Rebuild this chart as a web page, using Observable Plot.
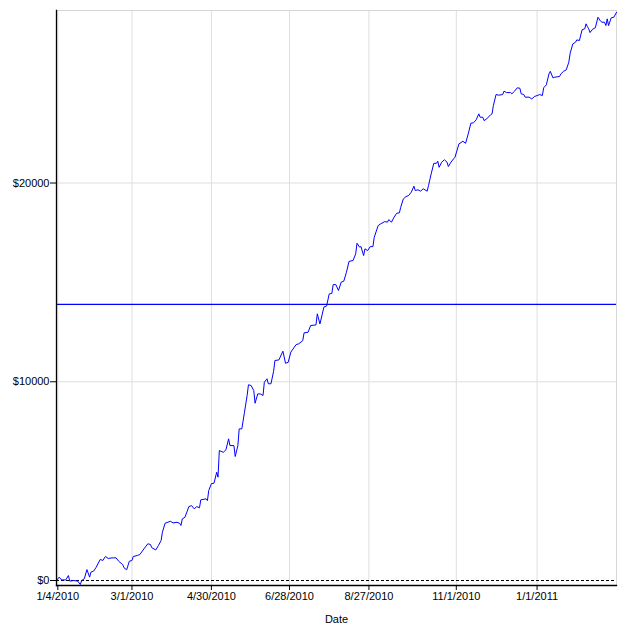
<!DOCTYPE html>
<html>
<head>
<meta charset="utf-8">
<script src="https://cdn.jsdelivr.net/npm/d3@7"></script>
<script src="https://cdn.jsdelivr.net/npm/@observablehq/plot@0.6"></script>
<style>
  html, body { margin: 0; padding: 0; background: white; }
  #chart { width: 632px; height: 634px; }
</style>
</head>
<body>
<div id="chart"></div>
<script>
// ---- data ----
const startDate = "2010-01-03";          // day 0 of the offsets below
const endDate = "2011-03-02";            // right end of the date axis
const dayOffsets = [
  0, 2, 4, 7, 9, 10, 13, 16, 18, 19, 21, 23, 25, 26, 28, 30, 33, 35, 37, 39,
  42, 45, 47, 50, 51, 53, 55, 57, 58, 61, 63, 66, 69, 71, 72, 75, 77, 79, 80, 82,
  86, 88, 91, 93, 94, 95, 97, 100, 102, 104, 106, 108, 109, 113, 114, 115, 117, 119, 121, 122,
  123, 126, 128, 130, 131, 134, 135, 137, 138, 140, 142, 144, 145, 147, 149, 150, 152, 154, 156, 157,
  159, 160, 162, 164, 165, 168, 171, 173, 175, 177, 181, 183, 186, 187, 190, 192, 196, 197, 199, 202,
  204, 206, 208, 209, 211, 213, 215, 217, 219, 221, 224, 226, 227, 229, 230, 232, 233, 235, 237, 239,
  240, 243, 245, 248, 250, 251, 253, 255, 257, 259, 260, 262, 264, 266, 268, 270, 271, 273, 275, 277,
  280, 281, 283, 285, 287, 288, 289, 291, 293, 295, 296, 298, 300, 301, 304, 307, 309, 311, 313, 315,
  317, 319, 320, 322, 323, 325, 328, 329, 330, 332, 334, 337, 338, 340, 343, 344, 346, 348, 350, 351,
  353, 354, 357, 359, 361, 363, 365, 367, 368, 370, 372, 373, 375, 376, 380, 381, 383, 385, 387, 388,
  390, 392, 393, 395, 397, 399, 400, 401, 402, 403, 405, 407, 409, 411, 412, 414, 415, 416, 417, 419,
  421, 423
];
const pnl = [
  0, 170, 30, 30, 250, -30, 0, -30, -200, 0, 90, 550, 170, 420, 470, 670, 1060, 1010, 1210, 1110,
  1140, 1140, 970, 800, 640, 540, 970, 1010, 1210, 1260, 1310, 1590, 1850, 1810, 1650, 1540, 1760, 2010, 2430, 2880,
  2980, 2900, 2930, 2880, 2770, 3100, 3180, 3720, 3770, 3610, 3720, 3660, 4060, 4110, 4020, 4530, 4870, 4900, 5450, 5200,
  6540, 6450, 6580, 7130, 6790, 6790, 6240, 6790, 7630, 7630, 8470, 9310, 9850, 9810, 9560, 8920, 9390, 9390, 9310, 9980,
  10150, 9900, 9900, 10530, 11070, 11100, 11540, 10930, 10980, 11490, 11870, 11910, 12070, 12460, 12490, 12830, 12860, 13420, 12910, 13760,
  13810, 14420, 14450, 14890, 14890, 14590, 15010, 15060, 15510, 16060, 16100, 16440, 16970, 16770, 16800, 16350, 16690, 16600, 16800, 16800,
  17270, 17860, 17950, 18060, 18030, 18160, 18030, 18280, 18480, 18500, 18780, 19200, 19320, 19370, 19540, 19840, 19620, 19660, 19590, 19710,
  19590, 19870, 20460, 20990, 20990, 21100, 20790, 21050, 21170, 21050, 20830, 21050, 21220, 21300, 21970, 22100, 22000, 22470, 23010, 23030,
  23180, 23480, 23310, 23310, 23140, 23230, 23440, 23480, 23900, 24450, 24420, 24450, 24620, 24550, 24550, 24490, 24620, 24790, 24770, 24490,
  24450, 24320, 24320, 24230, 24350, 24400, 24450, 24400, 24790, 24940, 25490, 25620, 25290, 25320, 25360, 25490, 25620, 25690, 26080, 26530,
  27000, 27080, 27200, 27170, 27710, 27760, 28010, 27870, 27760, 27570, 27740, 27810, 28340, 28140, 28090, 28090, 27920, 28260, 27920, 28310,
  28340, 28590
];
const xTickDates = ["2010-01-04", "2010-03-01", "2010-04-30", "2010-06-28", "2010-08-27", "2010-11-01", "2011-01-01"];
const yTicks = [0, 10000, 20000];
const meanLevel = 13890;                  // level of the solid horizontal line
const yDomain = [-250, 28680];

// ---- build table ----
const base = new Date(startDate);
const series = dayOffsets.map((d, i) => ({date: d3.utcDay.offset(base, d), value: pnl[i]}));
const tickDates = xTickDates.map(s => new Date(s));
const fmtDate = d => `${d.getUTCMonth() + 1}/${d.getUTCDate()}/${d.getUTCFullYear()}`;

const chart = Plot.plot({
  width: 632,
  height: 634,
  marginLeft: 56,
  marginRight: 16,
  marginTop: 10,
  marginBottom: 49,
  style: {fontFamily: "Arial, 'Liberation Sans', sans-serif", fontSize: "11px", color: "black", background: "white"},
  x: {type: "utc", domain: [new Date(startDate), new Date(endDate)]},
  y: {domain: yDomain},
  marks: [
    Plot.ruleX(tickDates, {stroke: "#dedede", strokeWidth: 1}),
    Plot.ruleY(yTicks.filter(v => v !== 0), {stroke: "#dedede", strokeWidth: 1}),
    Plot.frame({stroke: "#d6d6d6"}),
    Plot.ruleY([0], {stroke: "black", strokeDasharray: "3,2", strokeWidth: 1}),
    Plot.ruleY([meanLevel], {stroke: "#0000ff", strokeWidth: 1.2}),
    Plot.lineY(series, {x: "date", y: "value", stroke: "#0000ff", strokeWidth: 1}),
    Plot.frame({anchor: "left", stroke: "black", strokeWidth: 1.3}),
    Plot.frame({anchor: "bottom", stroke: "black", strokeWidth: 1.3}),
    Plot.axisX({ticks: tickDates, tickFormat: fmtDate, tickSize: 5, tickPadding: 2,
      label: "Date", labelAnchor: "center", labelArrow: "none", labelOffset: 37}),
    Plot.axisY({ticks: yTicks, tickFormat: d => "$" + d, tickSize: 6, tickPadding: 1, label: null})
  ]
});
document.getElementById("chart").appendChild(chart);
</script>
</body>
</html>
